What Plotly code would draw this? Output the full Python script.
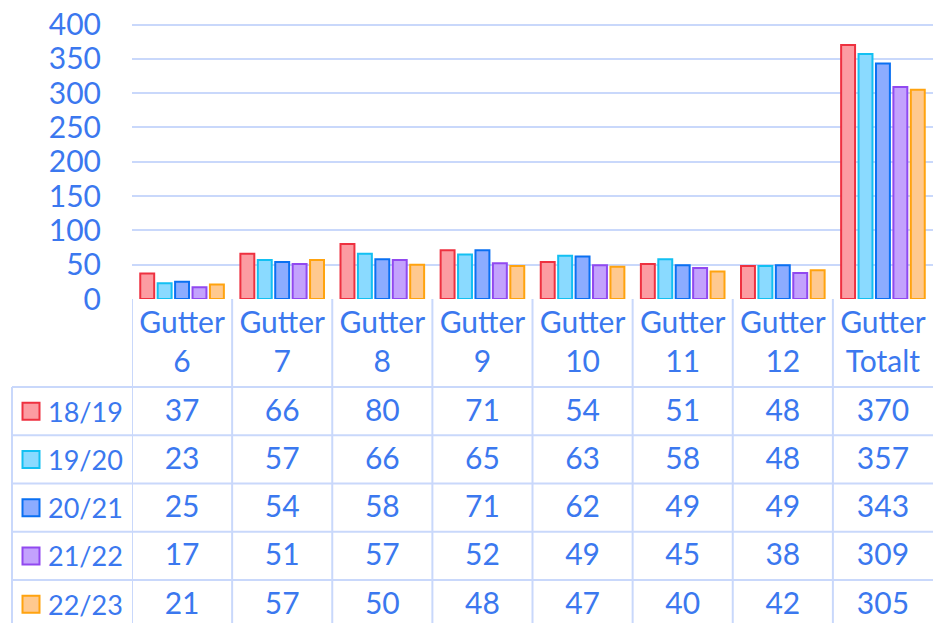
import plotly.graph_objects as go

categories = ["Gutter 6", "Gutter 7", "Gutter 8", "Gutter 9", "Gutter 10", "Gutter 11", "Gutter 12", "Gutter Totalt"]
seasons = ["18/19", "19/20", "20/21", "21/22", "22/23"]
v1819 = [37, 66, 80, 71, 54, 51, 48, 370]
v1920 = [23, 57, 66, 65, 63, 58, 48, 357]
v2021 = [25, 54, 58, 71, 62, 49, 49, 343]
v2122 = [17, 51, 57, 52, 49, 45, 38, 309]
v2223 = [21, 57, 50, 48, 47, 40, 42, 305]
series = [v1819, v1920, v2021, v2122, v2223]
y_ticks = [0, 50, 100, 150, 200, 250, 300, 350, 400]

fills = ["#fc9ca2", "#8adaff", "#8cacff", "#c3a2fd", "#ffc98f"]
borders = ["#ee3140", "#12c0f2", "#0a70f2", "#9149f0", "#ffa30f"]
TXT = "#3b78ef"
GRID = "#c9d8fb"
FONT = "Lato"
FS = 30
FS_LEG = 27

W, H = 933, 623
PLOT_LEFT = 132
AXIS_Y = 299            # px of value 0
TOP400 = 24.5           # px of value 400
HEADER_BOTTOM = 387
ROW_H = 48.25
LEG_LEFT = 12
TEXT_NUDGE = 2

ppu = (AXIS_Y - TOP400) / 400.0
ymax = AXIS_Y / ppu
dom_split = 1 - AXIS_Y / H
xdom = [PLOT_LEFT / W, 1]

fig = go.Figure()
for name, vals, fc, bc in zip(seasons, series, fills, borders):
    fig.add_trace(go.Bar(x=categories, y=vals, name=name,
                         marker=dict(color=fc, line=dict(color=bc, width=2)),
                         xaxis="x", yaxis="y", hoverinfo="x+y+name"))

# table header
line1 = [c.split(" ")[0] for c in categories]
line2 = [c.split(" ")[1] for c in categories]
fig.add_trace(go.Scatter(x=categories, y=[325] * len(categories), text=line1, mode="text",
                         textfont=dict(family=FONT, size=FS, color=TXT),
                         xaxis="x2", yaxis="y2", hoverinfo="skip"))
fig.add_trace(go.Scatter(x=categories, y=[364] * len(categories), text=line2, mode="text",
                         textfont=dict(family=FONT, size=FS, color=TXT),
                         xaxis="x2", yaxis="y2", hoverinfo="skip"))

# table values
for r, vals in enumerate(series):
    yc = HEADER_BOTTOM + ROW_H * (r + 0.5) + TEXT_NUDGE
    fig.add_trace(go.Scatter(x=categories, y=[yc] * len(vals), text=[str(v) for v in vals],
                             mode="text", textfont=dict(family=FONT, size=FS, color=TXT),
                             xaxis="x2", yaxis="y2", hoverinfo="skip"))

# legend keys
ycs = [HEADER_BOTTOM + ROW_H * (r + 0.5) for r in range(len(seasons))]
fig.add_trace(go.Scatter(x=[31] * len(seasons), y=ycs, mode="markers",
                         marker=dict(symbol="square", size=17, color=fills,
                                     line=dict(color=borders, width=2)),
                         xaxis="x3", yaxis="y2", hoverinfo="skip"))
annotations = []
for s, yc in zip(seasons, ycs):
    annotations.append(dict(x=46, y=yc, xref="x3", yref="y2", text=s, showarrow=False,
                            xanchor="left", yanchor="middle",
                            font=dict(family=FONT, size=FS_LEG, color=TXT)))

shapes = []
for i in range(len(categories)):
    shapes.append(dict(type="line", xref="x2", yref="y2", x0=i - 0.5, x1=i - 0.5,
                       y0=AXIS_Y, y1=H + 10, line=dict(color=GRID, width=2)))
shapes.append(dict(type="line", xref="x3", yref="y2", x0=LEG_LEFT, x1=LEG_LEFT,
                   y0=HEADER_BOTTOM, y1=H + 10, line=dict(color=GRID, width=2)))
for r in range(len(seasons)):
    yl = HEADER_BOTTOM + ROW_H * r
    shapes.append(dict(type="line", xref="paper", yref="y2", x0=LEG_LEFT / W, x1=1,
                       y0=yl, y1=yl, line=dict(color=GRID, width=2)))

fig.update_layout(
    width=W, height=H, margin=dict(l=0, r=0, t=0, b=0, pad=0, autoexpand=False),
    paper_bgcolor="white", plot_bgcolor="white",
    showlegend=False, barmode="group", bargap=0.13, bargroupgap=0.2,
    font=dict(family=FONT, size=FS, color=TXT),
    xaxis=dict(domain=xdom, anchor="y", type="category", range=[-0.5, len(categories) - 0.5],
               showticklabels=False, showgrid=False, zeroline=False, showline=False, ticks="",
               automargin=False),
    yaxis=dict(domain=[dom_split, 1], anchor="x", range=[0, ymax], tickvals=y_ticks,
               showgrid=True, gridcolor=GRID, gridwidth=2, zeroline=False, showline=False,
               ticks="", ticklabelstandoff=30, automargin=False,
               tickfont=dict(family=FONT, size=FS, color=TXT)),
    xaxis2=dict(domain=xdom, anchor="y2", type="category", range=[-0.5, len(categories) - 0.5],
                showticklabels=False, showgrid=False, zeroline=False, showline=False, ticks="",
                automargin=False),
    yaxis2=dict(domain=[0, dom_split], anchor="x2", range=[H, AXIS_Y], automargin=False,
                visible=False, showgrid=False, zeroline=False),
    xaxis3=dict(domain=[0, PLOT_LEFT / W], anchor="y2", range=[0, PLOT_LEFT], automargin=False,
                visible=False, showgrid=False, zeroline=False),
    shapes=shapes, annotations=annotations,
)

fig.write_html("out.html", config={"displayModeBar": False},
               post_script="document.body.style.margin='0';document.body.style.overflow='hidden';")
